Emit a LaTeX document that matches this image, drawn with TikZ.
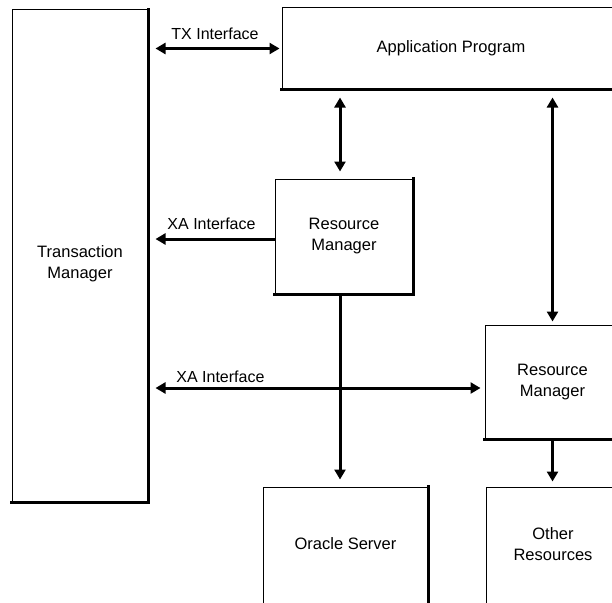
\documentclass[tikz,border=0pt]{standalone}
\usepackage{fontspec}
\setmainfont{Liberation Sans}
\usetikzlibrary{arrows.meta}
\begin{document}
\begin{tikzpicture}[x=1pt,y=-1pt,
  panel/.style={draw, line width=1pt, rectangle, align=center, inner sep=0pt,
    font=\fontsize{16.5}{21}\selectfont},
  shadowedge/.style={line width=3pt, line cap=rect},
  conn/.style={line width=3pt, {Triangle[length=10pt,width=11pt]}-{Triangle[length=10pt,width=11pt]}},
  oneway/.style={line width=3pt, -{Triangle[length=10pt,width=11pt]}},
  lbl/.style={font=\fontsize{16}{18}\selectfont, inner sep=1pt}
]
\clip (0,0) rectangle (612,602);
\fill[white] (0,0) rectangle (612,602);

\node[panel, minimum width=136pt, minimum height=492pt, text height=48pt] (tm) at (80,256) {Transaction\\Manager};
\node[panel, minimum width=338pt, minimum height=81pt] (ap) at (451,48.5) {Application Program};
\node[panel, minimum width=138pt, minimum height=115pt] (rm1) at (344,236.5) {Resource\\Manager};
\node[panel, minimum width=135pt, minimum height=114pt] (rm2) at (552.5,382) {Resource\\Manager};
\node[panel, minimum width=165pt, minimum height=128pt, text depth=14pt] (os) at (345.5,551) {Oracle Server};
\node[panel, minimum width=134pt, minimum height=128pt, text depth=14pt] (or) at (553,551) {Other\\Resources};

\foreach \n in {tm,ap,rm1,rm2,os,or}
  \draw[shadowedge] (\n.north east) -- (\n.south east) -- (\n.south west);

% TX interface
\draw[conn, shorten <=7pt, shorten >=2pt] (tm.east |- ap.west) -- (ap.west)
  node[lbl, midway, above=6pt] (tx) {TX Interface};
% XA interface 1
\draw[oneway, shorten >=7pt] ([yshift=-2.5pt]rm1.west) -- ([yshift=-2.5pt]rm1.west -| tm.east)
  node[lbl, midway, above=7pt] (xa1) {XA Interface};
% XA interface 2
\coordinate (xa2r) at ([yshift=-6pt]rm2.west);
\draw[conn, shorten <=7pt, shorten >=4pt] (xa2r -| tm.east) -- (xa2r)
  node[lbl, pos=0.214, above=3pt] (xa2) {XA Interface};
% AP <-> RM1
\coordinate (c1) at ([xshift=-4pt]rm1.north);
\draw[conn, shorten <=8pt, shorten >=7pt] (c1 |- ap.south) -- (c1);
% AP <-> RM2
\draw[conn, shorten <=8pt, shorten >=3pt] (rm2.north |- ap.south) -- (rm2.north);
% RM1 -> Oracle
\coordinate (c2) at ([xshift=-4pt]rm1.south);
\draw[oneway, shorten >=7pt] (c2) -- (c2 |- os.north);
% RM2 -> Other
\draw[oneway, shorten >=5pt] (rm2.south) -- (rm2.south |- or.north);
\end{tikzpicture}
\end{document}
